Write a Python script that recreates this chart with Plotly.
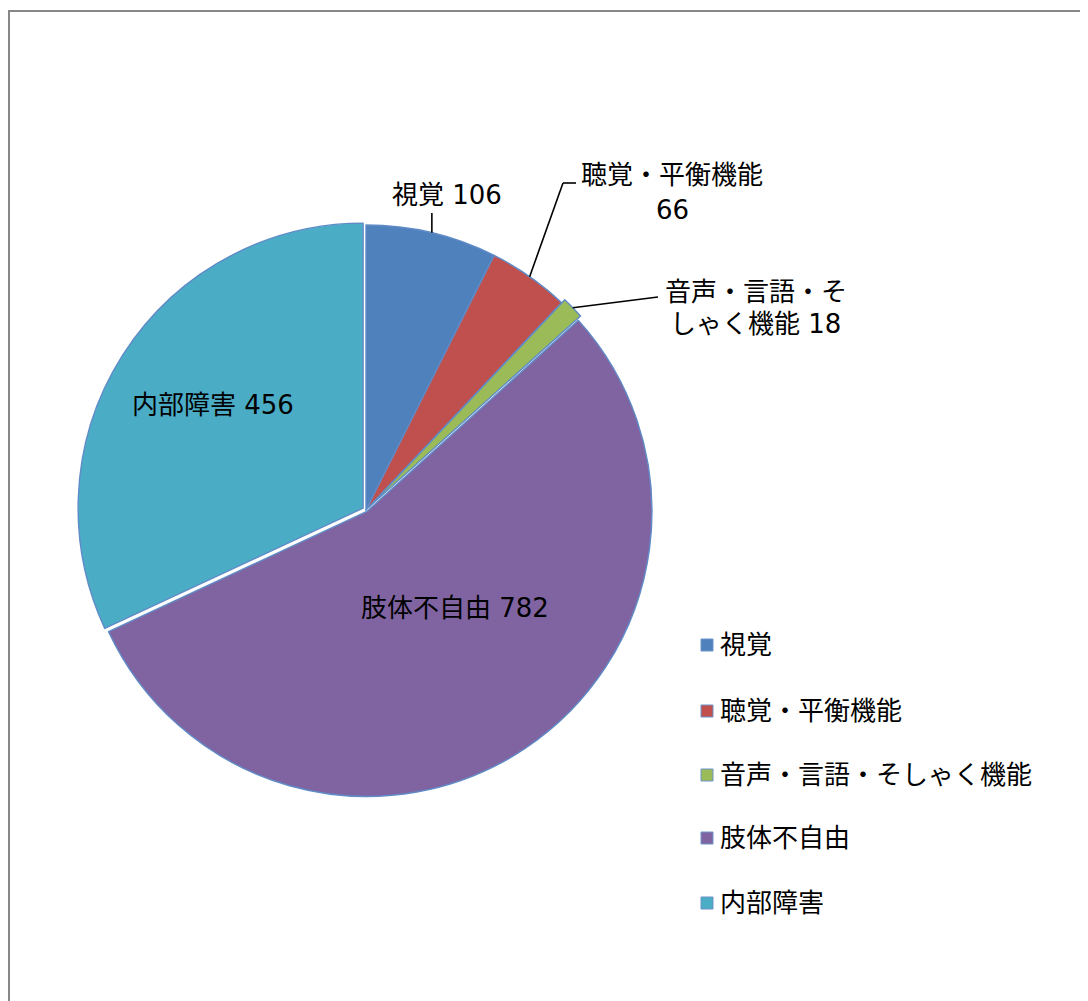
import math
import plotly.graph_objects as go

categories = ["視覚", "聴覚・平衡機能", "音声・言語・そしゃく機能", "肢体不自由", "内部障害"]
values = [106, 66, 18, 782, 456]
colors = ["#4F81BD", "#C0504D", "#9BBB59", "#8064A2", "#4BACC6"]
pulls = [0, 0, 0.015, 0.006, 0.012]

# page body has an 8px margin; work in reference-image pixels
OFF = 8
W, H = 1088 - OFF, 1001 - OFF
CX, CY, R = 366, 510, 285
FONT = "DejaVu Sans, Noto Sans CJK JP"
FS = 26

maxpull = max(pulls)
half = R * (1 + maxpull)


def px(x):
    return (x - OFF) / W


def py(y):
    return 1 - (y - OFF) / H


total = sum(values)
mids = []
cum = 0
for v in values:
    mids.append((cum + v / 2) / total * 2 * math.pi)
    cum += v


def edge(i):
    a = mids[i]
    r = R * (1 + pulls[i])
    return CX + r * math.sin(a), CY - r * math.cos(a)


fig = go.Figure()
fig.add_trace(go.Pie(
    labels=categories,
    values=values,
    sort=False,
    direction="clockwise",
    rotation=0,
    pull=pulls,
    textinfo="none",
    hoverinfo="label+value",
    marker=dict(colors=colors, line=dict(color="#5f8bc7", width=1.4)),
    domain=dict(x=[px(CX - half), px(CX + half)],
                y=[py(CY + half), py(CY - half)]),
    showlegend=False,
))

shapes = []
annotations = []


def line(x0, y0, x1, y1):
    shapes.append(dict(type="line", xref="paper", yref="paper",
                       x0=px(x0), y0=py(y0), x1=px(x1), y1=py(y1),
                       line=dict(color="black", width=1.6)))


def text(t, x, y, xanchor="center"):
    annotations.append(dict(text=t, xref="paper", yref="paper",
                            x=px(x), y=py(y), xanchor=xanchor, yanchor="middle",
                            showarrow=False,
                            font=dict(family=FONT, size=FS, color="black")))


# Leader lines
ex, ey = edge(0)
line(ex, ey, ex, 213)
ex, ey = edge(1)
line(ex, ey, 563, 183)
line(563, 183, 576, 183)
ex, ey = edge(2)
line(ex, ey, 658, 297)

# Data labels
text(f"{categories[0]} {values[0]}", 447, 195)
text(categories[1], 672, 175)
text(str(values[1]), 672, 210)
text(categories[2][:7], 756, 292)
text(f"{categories[2][7:]} {values[2]}", 756, 324)
text(f"{categories[4]} {values[4]}", 213, 405)
text(f"{categories[3]} {values[3]}", 455, 608)

# Manual legend
legend_y = [645, 711, 775, 838, 903]
for cat, col, yy in zip(categories, colors, legend_y):
    shapes.append(dict(type="rect", xref="paper", yref="paper",
                       x0=px(701), x1=px(713), y0=py(yy + 6), y1=py(yy - 6),
                       fillcolor=col, line=dict(color="#6d93c9", width=1)))
    text(cat, 718, yy, xanchor="left")

# Chart frame
shapes.append(dict(type="rect", xref="paper", yref="paper",
                   x0=px(9), y0=py(1030), x1=px(1120), y1=py(11),
                   line=dict(color="#878787", width=2), fillcolor="rgba(0,0,0,0)"))

fig.update_layout(
    width=W, height=H,
    margin=dict(l=0, r=0, t=0, b=0),
    paper_bgcolor="white",
    plot_bgcolor="white",
    shapes=shapes,
    annotations=annotations,
    showlegend=False,
)

fig.write_html("out.html")
